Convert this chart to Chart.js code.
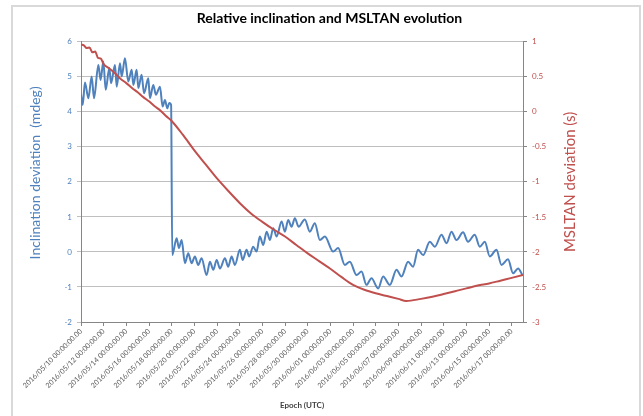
<!DOCTYPE html>
<html>
<head>
<meta charset="utf-8">
<script src="https://cdn.jsdelivr.net/npm/chart.js@4"></script>
<style>
  html, body { margin: 0; padding: 0; background: #fff; }
  #wrap { position: relative; width: 643px; height: 416px; overflow: hidden; }
  #frame { position: absolute; left: 11px; top: 5px; width: 630px; height: 430px; border: 2px solid #d9d9d9; box-sizing: border-box; }
  #chart { position: absolute; left: 0; top: 0; }
</style>
</head>
<body>
<div id="wrap">
  <div id="frame"></div>
  <canvas id="chart" width="643" height="416"></canvas>
</div>
<script>
// x tick labels, one every 2 days starting 2016/05/10
var epochLabels = [
  '2016/05/10 00:00:00.00', '2016/05/12 00:00:00.00', '2016/05/14 00:00:00.00',
  '2016/05/16 00:00:00.00', '2016/05/18 00:00:00.00', '2016/05/20 00:00:00.00',
  '2016/05/22 00:00:00.00', '2016/05/24 00:00:00.00', '2016/05/26 00:00:00.00',
  '2016/05/28 00:00:00.00', '2016/05/30 00:00:00.00', '2016/06/01 00:00:00.00',
  '2016/06/03 00:00:00.00', '2016/06/05 00:00:00.00', '2016/06/07 00:00:00.00',
  '2016/06/09 00:00:00.00', '2016/06/11 00:00:00.00', '2016/06/13 00:00:00.00',
  '2016/06/15 00:00:00.00', '2016/06/17 00:00:00.00'
];

// inclination deviation (mdeg), days since 2016/05/10
var incDays = [
  0.00, 0.15, 0.35, 0.65, 0.94, 1.15, 1.53, 1.73, 1.97, 2.18,
  2.50, 2.65, 3.00, 3.15, 3.44, 3.59, 3.88, 4.17, 4.47, 4.62,
  4.91, 5.06, 5.35, 5.56, 5.94, 6.08, 6.38, 6.61, 6.97, 7.20,
  7.41, 7.61, 7.79, 7.95, 8.05, 8.44, 8.64, 8.88, 9.17, 9.46,
  9.76, 10.05, 10.34, 10.64, 11.08, 11.38, 11.67, 11.97, 12.26, 12.70,
  12.99, 13.29, 13.58, 14.02, 14.26, 14.61, 14.84, 15.19, 15.49, 15.78,
  16.08, 16.38, 16.67, 16.96, 17.26, 17.70, 17.99, 18.28, 18.58, 18.87,
  19.20, 19.75, 20.19, 20.63, 21.08, 21.52, 22.25, 22.69, 23.28, 23.72,
  24.31, 24.75, 25.19, 25.63, 26.22, 26.66, 27.25, 27.84, 28.28, 28.86,
  29.30, 29.74, 30.19, 30.78, 31.22, 31.81, 32.25, 32.69, 33.13, 33.71,
  34.15, 34.74, 35.19, 35.63, 36.07, 36.66, 37.10, 37.68, 38.12, 38.57,
  38.95
];
var incValues = [
  4.50, 4.20, 4.84, 4.39, 5.01, 4.39, 5.34, 4.91, 5.44, 4.63,
  5.25, 4.82, 5.34, 4.72, 5.39, 5.01, 5.53, 4.87, 5.20, 4.77,
  5.20, 4.68, 5.06, 4.53, 4.96, 4.39, 4.77, 4.49, 4.72, 4.15,
  4.34, 4.10, 4.25, 4.20, -0.09, 0.39, 0.11, 0.34, -0.32, -0.04,
  -0.32, -0.13, -0.37, -0.18, -0.66, -0.28, -0.51, -0.23, -0.47, -0.18,
  -0.42, -0.13, -0.37, 0.06, -0.23, 0.06, -0.13, 0.15, 0.01, 0.44,
  0.20, 0.58, 0.34, 0.68, 0.44, 0.87, 0.58, 0.91, 0.72, 0.96,
  0.72, 0.93, 0.58, 0.82, 0.34, 0.44, 0.01, 0.11, -0.37, -0.28,
  -0.66, -0.56, -0.94, -0.75, -1.04, -0.70, -0.94, -0.51, -0.70, -0.28,
  -0.42, 0.06, -0.09, 0.29, 0.15, 0.49, 0.25, 0.58, 0.34, 0.56,
  0.29, 0.49, 0.15, 0.29, -0.13, 0.06, -0.37, -0.21, -0.61, -0.47,
  -0.66
];

// MSLTAN deviation (s)
var mslDays = [
  0, 0.25, 0.5, 0.75, 1, 1.25, 1.5, 1.75, 2, 2.5,
  3, 3.5, 4, 4.5, 5, 5.5, 6, 6.5, 7, 7.5,
  8, 9, 10, 11, 12, 13, 14, 15, 16, 17,
  18, 19, 20, 21, 22, 23, 24, 25, 26, 27,
  28, 28.7, 30, 31, 32, 33, 34, 35, 36, 37,
  38, 39
];
var mslValues = [
  0.96, 0.95, 0.91, 0.92, 0.85, 0.86, 0.77, 0.76, 0.68, 0.62,
  0.55, 0.47, 0.41, 0.34, 0.28, 0.21, 0.15, 0.08, 0.02, -0.06,
  -0.13, -0.33, -0.55, -0.75, -0.95, -1.13, -1.30, -1.45, -1.57, -1.68,
  -1.78, -1.90, -2.02, -2.13, -2.24, -2.36, -2.47, -2.54, -2.59, -2.63,
  -2.67, -2.70, -2.67, -2.64, -2.60, -2.56, -2.52, -2.48, -2.45, -2.41,
  -2.37, -2.33
];

var blue = '#4f81bd';
var red = '#c0504d';
var axisGray = '#868686';

function toPoints(xs, ys) {
  return xs.map(function (x, i) { return { x: x, y: ys[i] }; });
}

// y axis titles read bottom-to-top on both sides, as in Excel
var axisTitles = {
  id: 'axisTitles',
  afterDraw: function (chart) {
    var ctx = chart.ctx, a = chart.chartArea;
    var mid = (a.top + a.bottom) / 2;
    ctx.save();
    ctx.font = '14px Lato';
    ctx.textAlign = 'center';
    ctx.textBaseline = 'middle';
    ctx.fillStyle = blue;
    ctx.translate(a.left - 46, mid - 9);
    ctx.rotate(-Math.PI / 2);
    ctx.fillText('Inclination deviation  (mdeg)', 0, 0);
    ctx.restore();
    ctx.save();
    ctx.font = '15px Lato';
    ctx.textAlign = 'center';
    ctx.textBaseline = 'middle';
    ctx.fillStyle = red;
    ctx.translate(a.right + 47, mid);
    ctx.rotate(-Math.PI / 2);
    ctx.fillText('MSLTAN deviation (s)', 0, 0);
    ctx.restore();
  }
};

Chart.defaults.font.family = 'Lato';

new Chart(document.getElementById('chart'), {
  type: 'line',
  data: {
    datasets: [{
      label: 'MSLTAN deviation (s)',
      data: toPoints(mslDays, mslValues),
      yAxisID: 'y2',
      borderColor: red,
      borderWidth: 2,
      pointRadius: 0,
      cubicInterpolationMode: 'monotone'
    }, {
      label: 'Inclination deviation (mdeg)',
      data: toPoints(incDays, incValues),
      yAxisID: 'y',
      borderColor: blue,
      borderWidth: 2,
      pointRadius: 0,
      cubicInterpolationMode: 'monotone'
    }]
  },
  options: {
    responsive: false,
    animation: false,
    layout: { padding: { left: 16, right: 0, top: 0, bottom: 0 } },
    plugins: {
      legend: { display: false },
      tooltip: { enabled: false },
      title: {
        display: true,
        text: 'Relative inclination and MSLTAN evolution',
        color: '#000',
        font: { size: 14, weight: 'bold' },
        padding: { top: 10, bottom: 15 }
      }
    },
    scales: {
      x: {
        type: 'linear',
        position: 'bottom',
        min: 0,
        max: 39,
        // one tick per label, every 2 days
        afterBuildTicks: function (s) {
          s.ticks = epochLabels.map(function (_, i) { return { value: i * 2 }; });
        },
        afterFit: function (s) { s.height = 94; },
        ticks: {
          autoSkip: false,
          minRotation: 45,
          maxRotation: 45,
          padding: 1,
          color: '#595959',
          font: { size: 7.2 },
          callback: function (v) { return epochLabels[v / 2]; }
        },
        grid: { drawOnChartArea: false, tickLength: 4, color: axisGray },
        border: { color: axisGray },
        title: {
          display: true,
          text: 'Epoch (UTC)',
          color: '#404040',
          font: { size: 8, weight: 'bold' },
          padding: { top: 0, bottom: 6 }
        }
      },
      y: {
        position: 'left',
        min: -2,
        max: 6,
        afterFit: function (s) { s.width = 65; },
        ticks: { stepSize: 1, color: blue, font: { size: 8 }, padding: 5 },
        grid: { color: '#bfbfbf', tickLength: 4 },
        border: { color: axisGray }
      },
      y2: {
        position: 'right',
        min: -3,
        max: 1,
        afterFit: function (s) { s.width = 120; },
        ticks: {
          stepSize: 0.5,
          color: red,
          font: { size: 8 },
          padding: 5,
          callback: function (v) { return String(v); }
        },
        grid: { drawOnChartArea: false, tickLength: 4, color: axisGray },
        border: { color: axisGray }
      }
    }
  },
  plugins: [axisTitles]
});
</script>
</body>
</html>
